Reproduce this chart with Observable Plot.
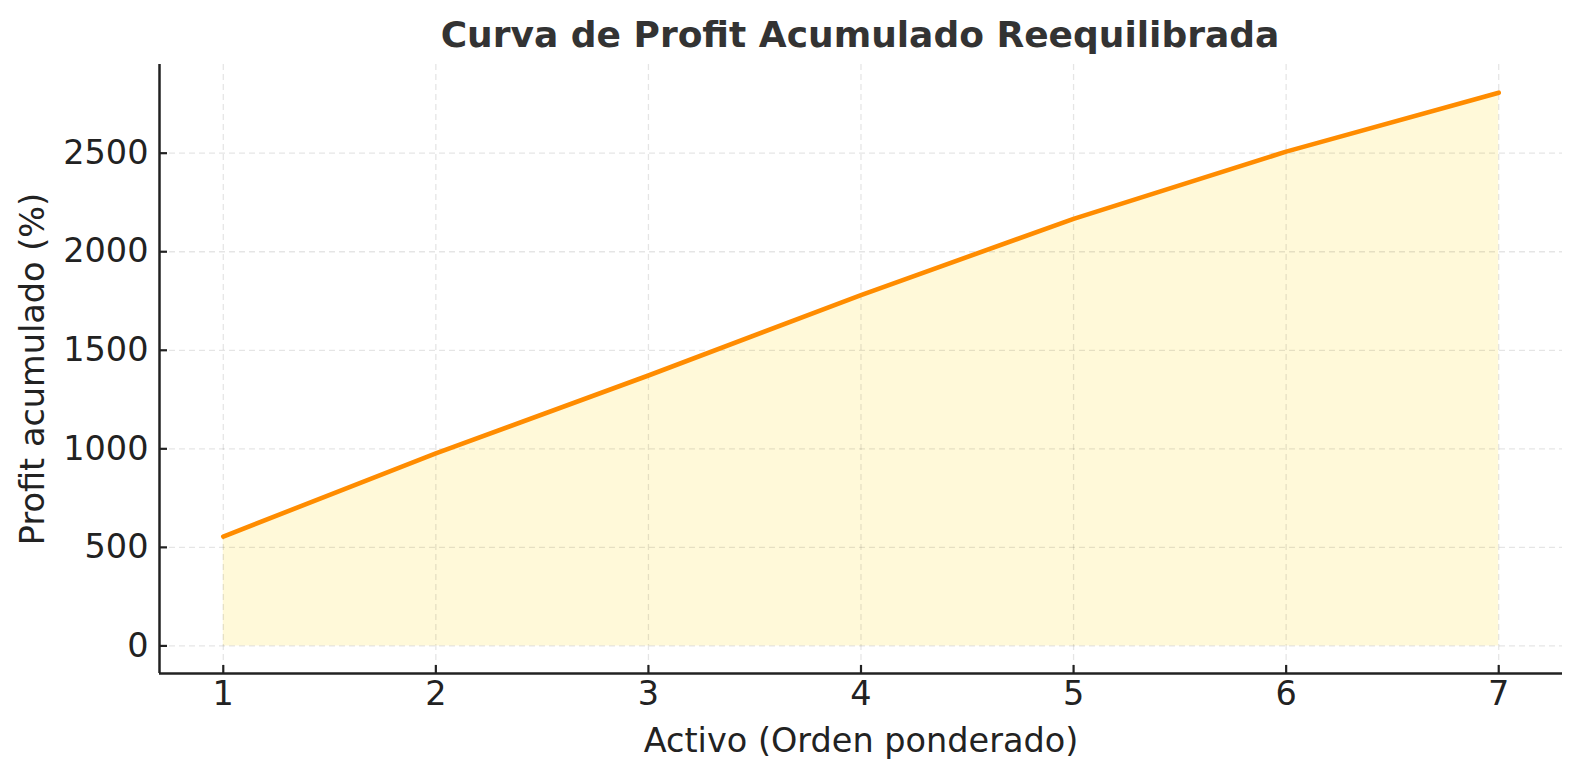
<!DOCTYPE html>
<html>
<head>
<meta charset="utf-8">
<script src="https://cdn.jsdelivr.net/npm/d3@7"></script>
<script src="https://cdn.jsdelivr.net/npm/@observablehq/plot@0.6"></script>
<style>
  html, body { margin: 0; padding: 0; background: #fff; overflow: hidden; width: 1580px; height: 780px; }
  #wrap { position: relative; width: 1580px; height: 780px; overflow: hidden; }
  #title { position: absolute; left: 0; top: 0; width: 1580px; height: 60px; box-sizing: border-box; padding-left: 140px;
    text-align: center; line-height: 70px; font-family: "DejaVu Sans", sans-serif;
    font-weight: bold; font-size: 36px; color: #333; white-space: nowrap; overflow: hidden; }
  #chart { position: absolute; left: 0; top: 60px; width: 1580px; height: 720px; overflow: hidden; }
  #chart svg { display: block; max-width: none !important; }
</style>
</head>
<body>
<div id="wrap">
<div id="title">Curva de Profit Acumulado Reequilibrada</div>
<div id="chart"></div>
</div>
<script>
const activos = [1, 2, 3, 4, 5, 6, 7];
const profitAcumulado = [555, 977, 1372, 1780, 2167, 2508, 2807];
const xTicks = [1, 2, 3, 4, 5, 6, 7];
const yTicks = [0, 500, 1000, 1500, 2000, 2500];
const xDomain = [0.7, 7.3];
const yDomain = [-140, 2950];

const data = activos.map((a, i) => ({activo: a, profit: profitAcumulado[i]}));
const fmt = d => String(d);

const chart = Plot.plot({
  width: 1580,
  height: 720,
  marginTop: 4,
  marginBottom: 107,
  marginLeft: 159,
  marginRight: 18,
  style: { fontFamily: "DejaVu Sans, sans-serif", fontSize: "33px", color: "#222", background: "#fff" },
  x: { domain: xDomain },
  y: { domain: yDomain },
  marks: [
    Plot.areaY(data, { x: "activo", y: "profit", fill: "gold", fillOpacity: 0.15 }),
    Plot.gridX(xTicks, { stroke: "#000", strokeOpacity: 0.1, strokeDasharray: "6,4", strokeWidth: 1.3 }),
    Plot.gridY(yTicks, { stroke: "#000", strokeOpacity: 0.1, strokeDasharray: "6,4", strokeWidth: 1.3 }),
    Plot.lineY(data, { x: "activo", y: "profit", stroke: "#ff8c00", strokeWidth: 4.6 }),
    Plot.axisX(xTicks, { tickSize: -8, tickPadding: 16, strokeWidth: 2.2, stroke: "#222", fill: "#222", tickFormat: fmt,
      label: "Activo (Orden ponderado)", labelAnchor: "center", labelArrow: "none", labelOffset: 78, fontSize: 33.5 }),
    Plot.axisY(yTicks, { tickSize: -8, tickPadding: 19, strokeWidth: 2.2, stroke: "#222", fill: "#222", tickFormat: fmt,
      label: "Profit acumulado (%)", labelAnchor: "center", labelArrow: "none", labelOffset: 139, fontSize: 33.5 }),
    Plot.ruleX([xDomain[0]], { stroke: "#222", strokeWidth: 2.5 }),
    Plot.ruleY([yDomain[0]], { stroke: "#222", strokeWidth: 2.5 })
  ]
});
document.getElementById("chart").appendChild(chart);
</script>
</body>
</html>
